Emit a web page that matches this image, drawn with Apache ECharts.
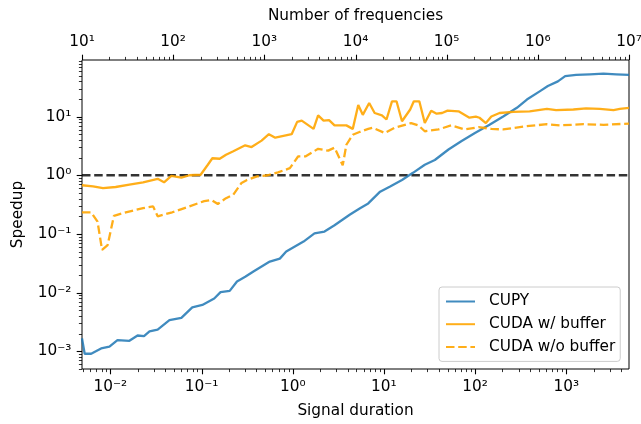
<!DOCTYPE html>
<html><head><meta charset="utf-8">
<script src="https://cdn.jsdelivr.net/npm/echarts@6/dist/echarts.min.js"></script>
<style>html,body{margin:0;padding:0;background:#fff}#c{width:641px;height:424px}</style>
</head><body><div id="c"></div>
<script>
const seriesNames = ['CUPY', 'CUDA w/ buffer', 'CUDA w/o buffer'];

const cupyN = [10, 10.7, 12.6, 16.2, 20, 24.5, 33.1, 40.7, 47.9, 55, 67.6, 91, 123, 162, 209, 282, 331, 417, 501, 617, 759, 1148, 1479, 1738, 2692, 3548, 4571, 5888, 8710, 11220, 13800, 18620, 23990, 32360, 42660, 57540, 74130, 104700, 144500, 204200, 295100, 416900, 588800, 758600, 1047000, 1288000, 1660000, 1995000, 2630000, 3715000, 5248000, 7244000, 10000000];
const cupySpeedup = [0.00166, 0.00091, 0.00091, 0.00112, 0.00120, 0.00155, 0.00151, 0.00186, 0.00182, 0.00219, 0.00234, 0.00339, 0.00372, 0.00562, 0.00617, 0.00794, 0.0102, 0.0107, 0.0155, 0.0186, 0.0229, 0.0339, 0.0380, 0.0501, 0.0741, 0.102, 0.110, 0.141, 0.214, 0.275, 0.331, 0.525, 0.646, 0.832, 1.10, 1.51, 1.82, 2.75, 3.80, 5.25, 7.24, 10.0, 14.1, 19.5, 26.9, 33.1, 39.8, 49.0, 51.3, 52.5, 53.7, 52.5, 51.3];

const bufN = [10, 13.2, 17.0, 23.4, 33.1, 46.8, 67.6, 79.4, 95.5, 123, 151, 200, 240, 269, 324, 380, 457, 617, 724, 933, 1122, 1318, 1995, 2291, 2570, 3467, 3890, 4467, 5129, 5888, 7943, 9333, 10720, 12020, 14130, 16220, 19500, 21880, 25120, 28180, 32360, 39810, 43650, 50120, 57540, 67610, 77620, 89130, 102300, 134900, 177800, 208900, 229100, 269200, 309000, 380200, 537000, 812800, 1259000, 1585000, 2455000, 3388000, 4786000, 6761000, 7943000, 10000000];
const bufSpeedup = [0.676, 0.646, 0.603, 0.631, 0.692, 0.759, 0.871, 0.759, 0.977, 0.912, 1.00, 1.02, 1.51, 1.95, 1.91, 2.24, 2.57, 3.24, 3.02, 3.89, 5.01, 4.37, 5.01, 8.13, 8.51, 6.17, 10.5, 8.51, 8.71, 7.08, 7.08, 6.17, 15.8, 10.7, 17.0, 11.5, 10.5, 8.91, 18.2, 18.2, 8.32, 13.2, 18.2, 18.2, 7.76, 12.6, 11.2, 11.5, 12.6, 12.3, 9.55, 10.0, 9.55, 7.76, 10.0, 11.5, 12.0, 12.3, 13.5, 12.9, 13.2, 13.8, 13.5, 12.9, 13.5, 14.1];

const nobufN = [10, 12.6, 14.8, 16.6, 19.1, 22.4, 30.2, 46.8, 60.3, 67.6, 97.7, 151, 219, 263, 309, 380, 457, 562, 646, 832, 1096, 1413, 1905, 2344, 2818, 3890, 5012, 5888, 7244, 7943, 9333, 11220, 13800, 15490, 20890, 26920, 40740, 48980, 57540, 81280, 112200, 158500, 223900, 309000, 416900, 691800, 1259000, 1738000, 3162000, 5248000, 10000000];
const nobufSpeedup = [0.234, 0.234, 0.162, 0.0537, 0.0646, 0.204, 0.234, 0.275, 0.295, 0.200, 0.234, 0.295, 0.363, 0.380, 0.324, 0.407, 0.468, 0.741, 0.832, 0.955, 1.00, 1.12, 1.32, 2.09, 2.09, 2.82, 2.63, 2.95, 1.48, 3.31, 4.90, 5.50, 6.17, 6.46, 5.25, 6.46, 7.76, 7.08, 5.62, 6.03, 7.08, 6.03, 6.61, 6.17, 6.03, 6.76, 7.41, 7.08, 7.41, 7.24, 7.59];

const refLineN = [10, 10000000];
const refLineSpeedup = [1, 1];

const freqRange = [10, 10000000];
const durationRange = [10 / 2048, 10000000 / 2048];
const speedupRange = [0.0005, 92];

const FONT = 'DejaVu Sans';
const FS = 15.3;
const SUP = {'0':'⁰','1':'¹','2':'²','3':'³','4':'⁴','5':'⁵','6':'⁶','7':'⁷','8':'⁸','9':'⁹','-':'⁻'};
function pow10Label(v) {
  const e = Math.log10(v), r = Math.round(e);
  if (Math.abs(e - r) > 1e-6) return '';
  return '10' + String(r).split('').map(c => SUP[c]).join('');
}
function logTicks(range) {
  const out = [];
  for (let k = Math.floor(Math.log10(range[0])); k <= Math.ceil(Math.log10(range[1])); k++) {
    for (let m = 1; m <= 9; m++) {
      const v = m * Math.pow(10, k);
      if (v >= range[0] * (1 - 1e-9) && v <= range[1] * (1 + 1e-9)) out.push([v, m === 1 ? 1 : 0]);
    }
  }
  return out;
}
function zip(a, b) { return a.map((x, i) => [x, b[i]]); }

const MAJ = 5.3, MIN = 3.1;
function tickSeries(kind) {
  let data, xIdx;
  if (kind === 'bottom') { data = logTicks(durationRange).map(t => [t[0], speedupRange[0], t[1]]); xIdx = 0; }
  else if (kind === 'top') { data = logTicks(freqRange).map(t => [t[0], speedupRange[0], t[1]]); xIdx = 1; }
  else { data = logTicks(speedupRange).map(t => [freqRange[0], t[0], t[1]]); xIdx = 1; }
  return {
    type: 'custom', xAxisIndex: xIdx, yAxisIndex: 0, silent: true, clip: false, z: 10,
    data: data, encode: {x: 0, y: 1},
    renderItem: function (params, api) {
      const cs = params.coordSys;
      const major = api.value(2) === 1;
      const len = major ? MAJ : MIN;
      const p = api.coord([api.value(0), api.value(1)]);
      let shape;
      if (kind === 'bottom') { const x = Math.round(p[0]) + 0.5; const y0 = cs.y + cs.height; shape = {x1: x, y1: y0, x2: x, y2: y0 + len}; }
      else if (kind === 'top') { const x = Math.round(p[0]) + 0.5; const y0 = cs.y; shape = {x1: x, y1: y0, x2: x, y2: y0 - len}; }
      else { const y = Math.round(p[1]) + 0.5; const x0 = cs.x; shape = {x1: x0, y1: y, x2: x0 - len, y2: y}; }
      return {type: 'line', shape: shape, style: {stroke: '#000', lineWidth: major ? 1.1 : 0.8}};
    }
  };
}

const axisCommon = {
  type: 'log', logBase: 10,
  axisLine: {show: false}, axisTick: {show: false}, splitLine: {show: false}, minorTick: {show: false},
  axisLabel: {formatter: pow10Label, margin: 10.6, fontSize: FS, color: '#000', fontFamily: FONT, hideOverlap: false},
  nameLocation: 'middle',
  nameTextStyle: {fontSize: FS, color: '#000', fontFamily: FONT}
};

const LW = 2.3;
const chart = echarts.init(document.getElementById('c'), null, {renderer: 'canvas'});
chart.setOption({
  animation: false,
  backgroundColor: '#fff',
  grid: {left: 82, right: 12, top: 60, bottom: 55, containLabel: false, outerBoundsMode: 'none',
         show: true, borderColor: '#000', borderWidth: 1, backgroundColor: 'transparent'},
  xAxis: [
    Object.assign({}, axisCommon, {position: 'bottom', min: durationRange[0], max: durationRange[1], name: 'Signal duration', nameGap: 35}),
    Object.assign({}, axisCommon, {position: 'top', min: freqRange[0], max: freqRange[1], name: 'Number of frequencies', nameGap: 36})
  ],
  yAxis: [
    Object.assign({}, axisCommon, {position: 'left', min: speedupRange[0], max: speedupRange[1], name: 'Speedup', nameGap: 56, nameRotate: 90})
  ],
  legend: {
    data: seriesNames, orient: 'vertical', left: 439, top: 287,
    padding: [7, 5, 7, 6], itemWidth: 29, itemHeight: 15, itemGap: 7.7,
    backgroundColor: 'rgba(255,255,255,0.8)', borderColor: '#cccccc', borderWidth: 1, borderRadius: 3,
    itemStyle: {opacity: 0},
    textStyle: {fontSize: FS, color: '#000', fontFamily: FONT, lineHeight: 15, padding: [0, 0, 0, 9]},
    selectedMode: false
  },
  series: [
    {name: 'ref', type: 'line', xAxisIndex: 1, yAxisIndex: 0, data: zip(refLineN, refLineSpeedup), symbol: 'none', silent: true,
     lineStyle: {color: '#000', opacity: 0.8, width: LW, type: [8.5, 3.7]}, z: 2},
    {name: seriesNames[0], type: 'line', xAxisIndex: 1, yAxisIndex: 0, data: zip(cupyN, cupySpeedup), symbol: 'none',
     lineStyle: {color: '#1f77b4', opacity: 0.85, width: LW}, itemStyle: {color: '#1f77b4'}, z: 3},
    {name: seriesNames[1], type: 'line', xAxisIndex: 1, yAxisIndex: 0, data: zip(bufN, bufSpeedup), symbol: 'none',
     lineStyle: {color: '#ffa500', opacity: 0.9, width: LW}, itemStyle: {color: '#ffa500'}, z: 3},
    {name: seriesNames[2], type: 'line', xAxisIndex: 1, yAxisIndex: 0, data: zip(nobufN, nobufSpeedup), symbol: 'none',
     lineStyle: {color: '#ffa500', opacity: 0.9, width: LW, type: [8.5, 3.7]}, itemStyle: {color: '#ffa500'}, z: 3},
    tickSeries('bottom'), tickSeries('top'), tickSeries('left')
  ]
});
</script></body></html>
